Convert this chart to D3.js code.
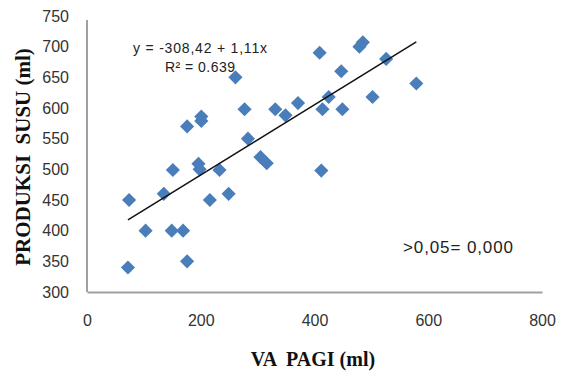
<!DOCTYPE html>
<html>
<head>
<meta charset="utf-8">
<script src="https://cdn.jsdelivr.net/npm/d3@7"></script>
<style>
	body { margin: 0; background: #fff; }
	svg { display: block; }
</style>
</head>
<body>
<script>
// * Data
const vaPagi = [74, 72, 103, 135, 149, 169, 176, 216, 249,
	261, 277, 331, 201, 201, 176, 283, 305, 316, 196, 198, 151, 233,
	409, 485, 479, 526, 447, 579, 371, 349, 425, 414, 449, 502, 412];
const produksiSusu = [450, 340, 400, 460, 400, 400, 350, 450, 460,
	650, 598, 598, 586, 579, 570, 550, 520, 510, 509, 500, 499, 499,
	690, 707, 700, 680, 660, 640, 608, 588, 618, 598, 598, 618, 498];
const xTicks = [0, 200, 400, 600, 800];
const yTicks = [300, 350, 400, 450, 500, 550, 600, 650, 700, 750];

// * Size & Margins
const width = 563;
const height = 371;
const margin = { left: 87, right: 21, top: 16, bottom: 79 };

const svg = d3
	.select("body")
	.append("svg")
	.attr("width", width)
	.attr("height", height);

const xScale = d3
	.scaleLinear()
	.domain([0, 800])
	.range([margin.left, width - margin.right]);

const yScale = d3
	.scaleLinear()
	.domain([300, 750])
	.range([height - margin.bottom, margin.top]);

const sans = "'Liberation Sans', Arial, sans-serif";
const serif = "'Liberation Serif', 'Times New Roman', serif";

// * AXES
const xAxis = svg.append("g")
	.attr("transform", `translate(0,${height - margin.bottom})`)
	.call(d3.axisBottom(xScale).tickValues(xTicks).tickSize(0).tickPadding(23));

const yAxis = svg.append("g")
	.attr("transform", `translate(${margin.left},0)`)
	.call(d3.axisLeft(yScale).tickValues(yTicks).tickSize(0).tickPadding(18));

[xAxis, yAxis].forEach((ax) => {
	ax.select(".domain").attr("stroke", "#a0a0a0").attr("stroke-width", 2);
	ax.selectAll("text")
		.attr("font-family", sans)
		.attr("font-size", "16px")
		.attr("fill", "#333");
});
yAxis.select(".domain").attr("d", `M0,${yScale(300)}V${yScale(750) + 4}`);

// * Trend line (least squares)
const n = vaPagi.length;
const mx = d3.mean(vaPagi);
const my = d3.mean(produksiSusu);
let sxy = 0, sxx = 0;
for (let i = 0; i < n; i++) {
	sxy += (vaPagi[i] - mx) * (produksiSusu[i] - my);
	sxx += (vaPagi[i] - mx) ** 2;
}
const slope = sxy / sxx;
const intercept = my - slope * mx;
const x0 = d3.min(vaPagi), x1 = d3.max(vaPagi);

// * PLOT
svg.selectAll("path.point")
	.data(vaPagi)
	.join("path")
	.attr("class", "point")
	.attr("d", d3.symbol().type(d3.symbolSquare).size(100))
	.attr("transform", (d, i) => `translate(${xScale(d)},${yScale(produksiSusu[i])}) rotate(45)`)
	.attr("fill", "#4a7ebb");

svg.append("line")
	.attr("x1", xScale(x0))
	.attr("y1", yScale(intercept + slope * x0))
	.attr("x2", xScale(x1))
	.attr("y2", yScale(intercept + slope * x1))
	.attr("stroke", "#111")
	.attr("stroke-width", 1.5);

// * Labels
svg.append("text")
	.attr("x", 200).attr("y", 53)
	.attr("text-anchor", "middle")
	.attr("font-family", sans).attr("font-size", "14px").attr("fill", "#222")
	.attr("textLength", 134)
	.text("y = -308,42 + 1,11x");
svg.append("text")
	.attr("x", 200).attr("y", 72)
	.attr("text-anchor", "middle")
	.attr("font-family", sans).attr("font-size", "14px").attr("fill", "#222")
	.attr("textLength", 70)
	.text("R² = 0.639");

svg.append("text")
	.attr("x", 403).attr("y", 253)
	.attr("font-family", sans).attr("font-size", "17px").attr("fill", "#222")
	.attr("textLength", 110)
	.text(">0,05= 0,000");

svg.append("text")
	.attr("x", 313).attr("y", 366)
	.attr("text-anchor", "middle")
	.attr("font-family", serif).attr("font-weight", "bold").attr("font-size", "20px")
	.attr("fill", "#111")
	.attr("xml:space", "preserve")
	.text("VA  PAGI (ml)");

svg.append("text")
	.attr("transform", "translate(30,157) rotate(-90)")
	.attr("text-anchor", "middle")
	.attr("font-family", serif).attr("font-weight", "bold").attr("font-size", "21px")
	.attr("fill", "#111")
	.attr("xml:space", "preserve")
	.text("PRODUKSI  SUSU (ml)");
</script>
</body>
</html>
